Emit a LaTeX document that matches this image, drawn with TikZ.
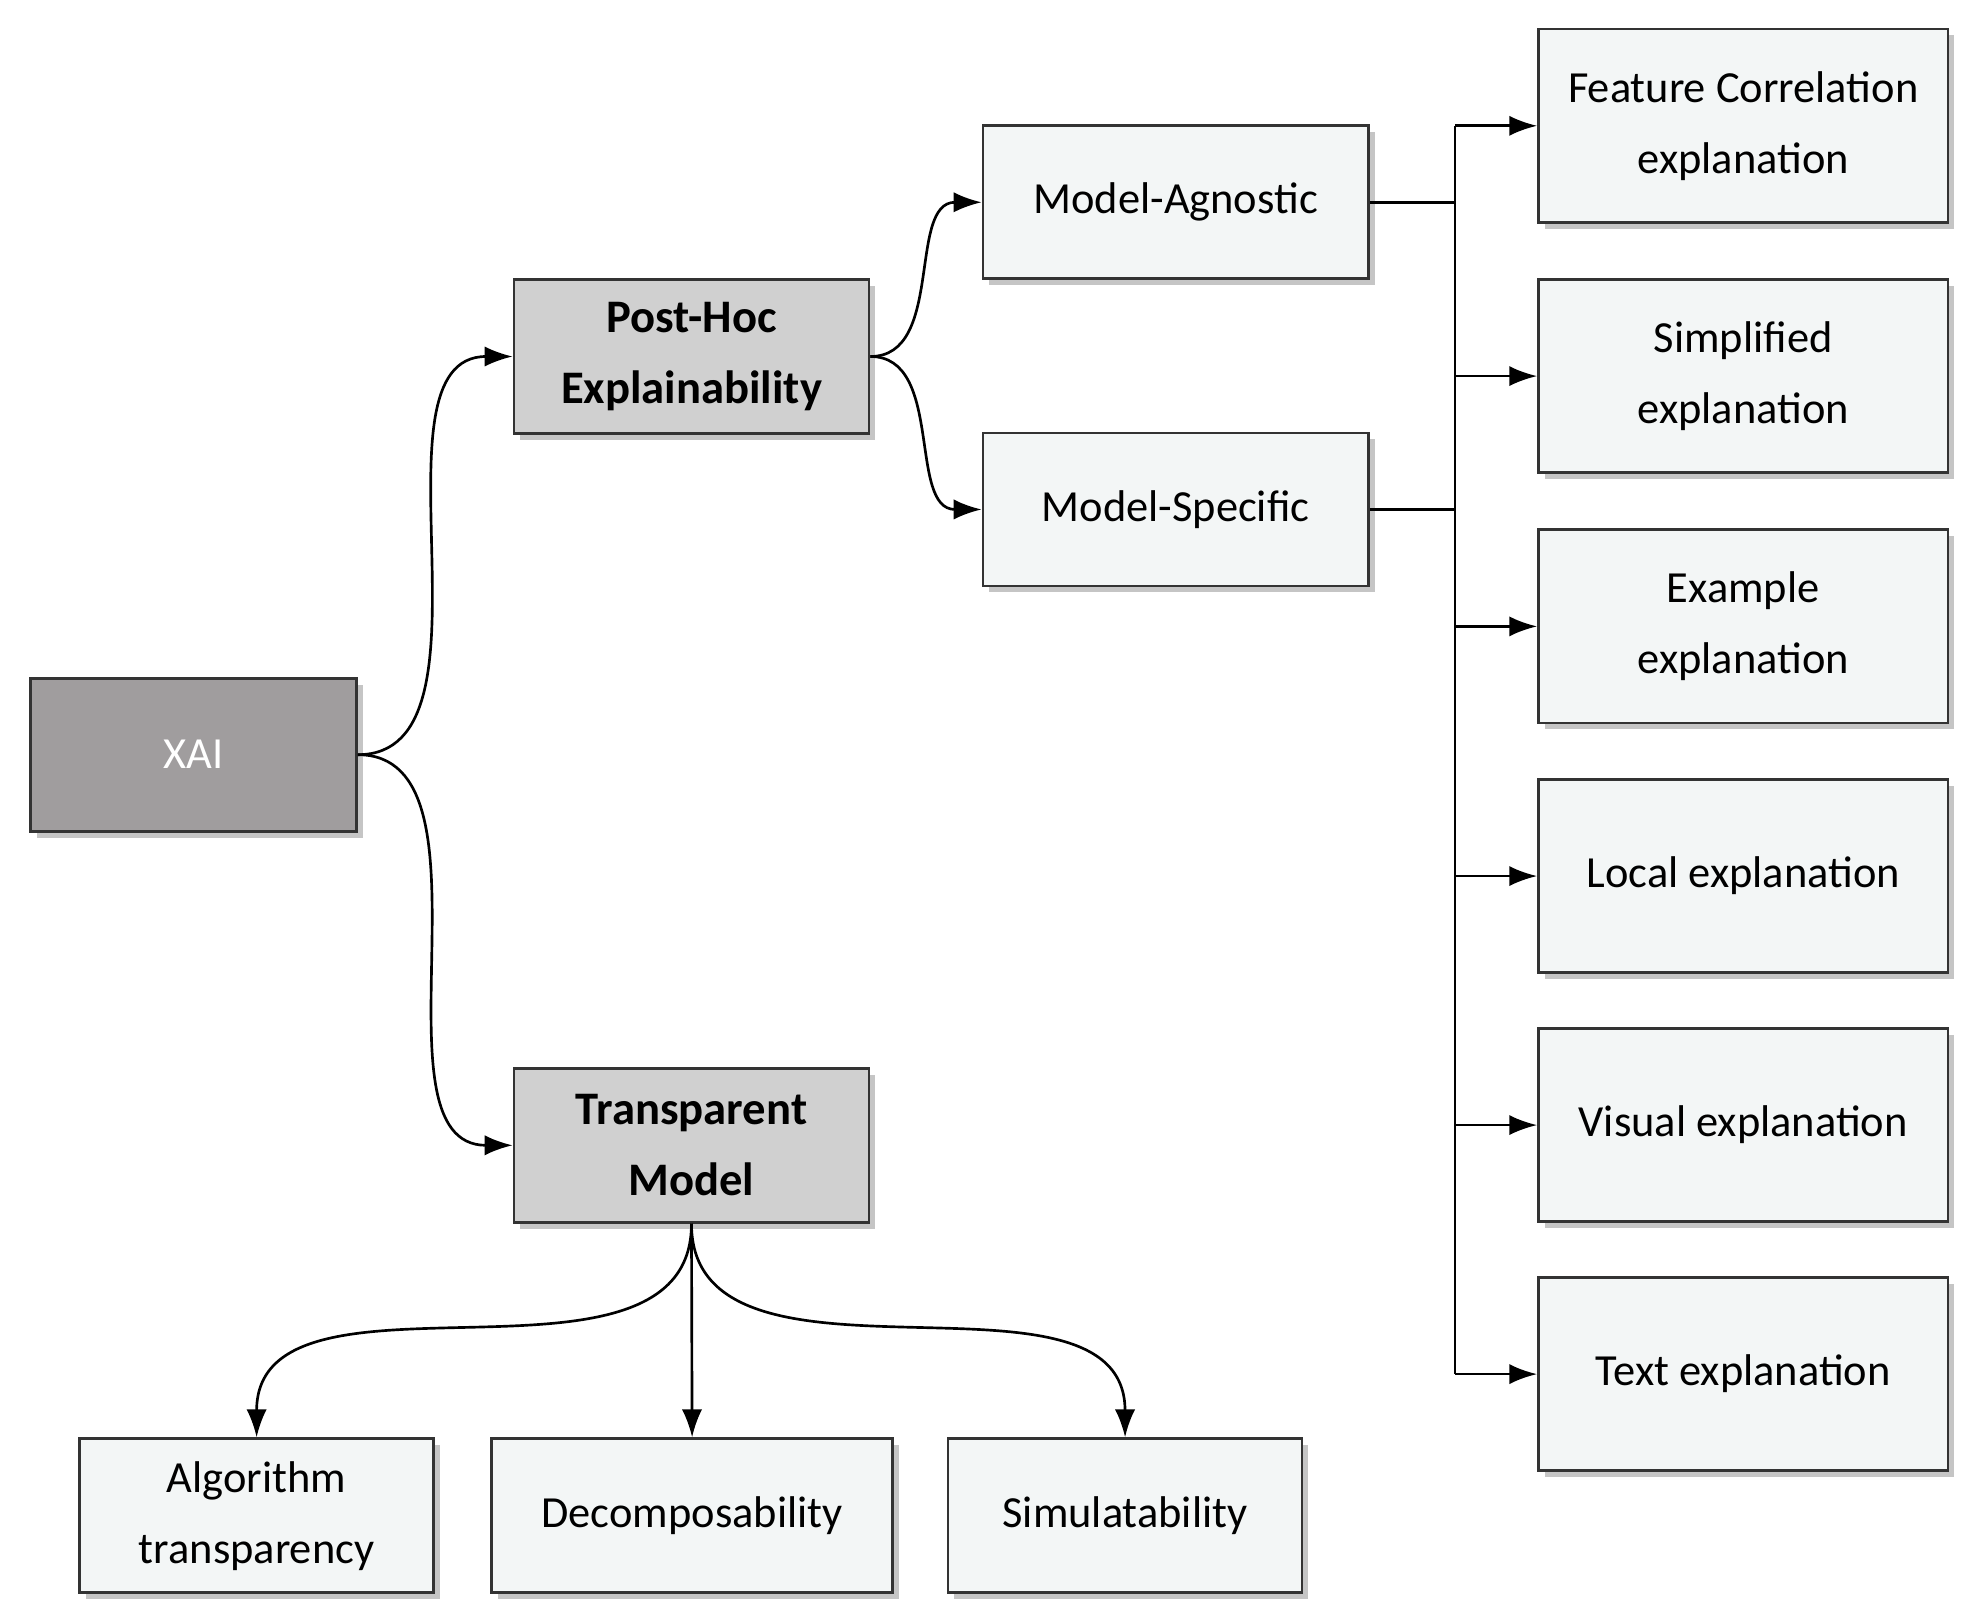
\documentclass[tikz,border=0pt]{standalone}
\usepackage{fontspec}
\setmainfont{Carlito}
\usetikzlibrary{positioning,shadows,arrows.meta}
\definecolor{darkbox}{HTML}{A09D9E}
\definecolor{midbox}{HTML}{D0D0D0}
\definecolor{lightbox}{HTML}{F3F6F6}
\begin{document}
\begin{tikzpicture}[
    box/.style={draw=black!80, line width=0.6pt, align=center, fill=lightbox,
        drop shadow={shadow xshift=0.5mm, shadow yshift=-0.5mm, fill=black!45},
        font=\fontsize{10}{16}\selectfont, inner sep=0pt},
    small/.style={box, minimum width=3.05cm, minimum height=1.21cm},
    side/.style={box, minimum width=3.24cm, minimum height=1.53cm},
    low/.style={box, minimum height=1.22cm},
    head/.style={box, fill=midbox, minimum width=2.81cm, minimum height=1.22cm,
        font=\fontsize{10.5}{16}\selectfont\bfseries},
    link/.style={-{Latex[length=2.2mm,width=1.6mm]}, line width=0.6pt}
]
    \useasboundingbox (0,0) rectangle (15.6,-12.75);

    \node[box, fill=darkbox, text=white, minimum width=2.58cm, minimum height=1.21cm]
        (xai) at (1.53,-5.97) {XAI};
    \node[head] (posthoc) at (5.47,-2.82) {Post-Hoc\\Explainability};
    \node[head] (transp) at (5.47,-9.06) {Transparent\\Model};

    \node[small] (agn) at (9.30,-1.60) {Model-Agnostic};
    \node[small] (spec) at (9.30,-4.03) {Model-Specific};

    \node[side] (feat) at (13.79,-0.995) {Feature Correlation\\explanation};
    \node[side] (simp) at (13.79,-2.975) {Simplified\\explanation};
    \node[side] (exam) at (13.79,-4.955) {Example\\explanation};
    \node[side] (loc) at (13.79,-6.93) {Local explanation};
    \node[side] (vis) at (13.79,-8.90) {Visual explanation};
    \node[side] (txt) at (13.79,-10.87) {Text  explanation};

    \node[low, minimum width=2.80cm] (algo) at (2.03,-11.99) {Algorithm\\transparency};
    \node[low, minimum width=3.17cm] (deco) at (5.475,-11.99) {Decomposability};
    \node[low, minimum width=2.80cm] (simu) at (8.90,-11.99) {Simulatability};

    % curved links
    \draw[link] (xai.east) to[out=0, in=180, looseness=0.9] (posthoc.west);
    \draw[link] (xai.east) to[out=0, in=180, looseness=0.9] (transp.west);
    \draw[link] (posthoc.east) to[out=0, in=180] (agn.west);
    \draw[link] (posthoc.east) to[out=0, in=180] (spec.west);
    \draw[link] (transp.south) to[out=-90, in=90] (algo.north);
    \draw[link] (transp.south) -- (deco.north);
    \draw[link] (transp.south) to[out=-90, in=90] (simu.north);

    % trunk to the explanation types
    \coordinate (top) at (11.51,-0.995);
    \coordinate (bot) at (11.51,-10.87);
    \draw[line width=0.6pt] (top) -- (bot);
    \draw[line width=0.6pt] (agn.east) -- (agn.east -| top);
    \draw[line width=0.6pt] (spec.east) -- (spec.east -| top);
    \foreach \n in {feat,simp,exam,loc,vis,txt}
        \draw[link] (\n.west -| top) -- (\n.west);
\end{tikzpicture}
\end{document}
